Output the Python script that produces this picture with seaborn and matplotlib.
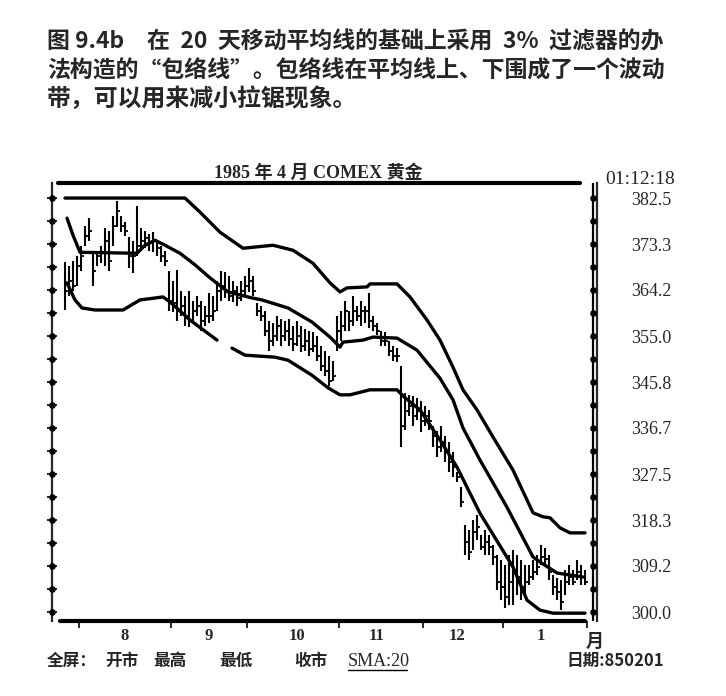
import numpy as np
import matplotlib
matplotlib.use('Agg')
import matplotlib.pyplot as plt
from matplotlib.lines import Line2D
import seaborn as sns

# daily bars, April 1985 COMEX gold (late Jul 1984 .. Jan 1985)
highs = [369.7, 369.0, 370.0, 371.0, 373.0, 377.0, 378.5, 372.0, 372.0, 373.0,
         376.5, 376.0, 379.0, 382.0, 379.0, 377.7, 374.7, 374.0, 381.0, 376.5,
         376.0, 375.3, 375.7, 374.0, 373.0, 372.0, 368.0, 366.0, 368.2, 364.0,
         363.0, 364.0, 362.0, 363.0, 362.0, 361.0, 363.5, 363.0, 366.0, 368.0,
         367.7, 367.0, 366.0, 365.0, 366.0, 367.0, 368.5, 367.0, 361.6, 361.0,
         360.0, 358.0, 357.7, 359.0, 358.5, 358.0, 358.5, 357.0, 358.0, 357.0,
         356.5, 356.0, 355.8, 355.0, 353.0, 352.0, 351.0, 350.0, 359.0, 360.0,
         362.0, 360.0, 363.0, 361.0, 362.0, 361.0, 363.5, 359.0, 357.6, 356.0,
         355.8, 354.0, 353.0, 352.6, 349.0, 343.6, 343.2, 343.0, 342.6, 342.0,
         341.0, 340.3, 337.0, 336.0, 337.0, 335.0, 334.0, 332.0, 328.0, 325.0,
         317.4, 316.4, 318.4, 319.4, 315.4, 316.4, 315.4, 313.4, 311.4, 310.4,
         309.4, 311.4, 312.4, 311.4, 310.4, 309.4, 309.4, 310.4, 311.4, 313.4,
         312.7, 311.4, 307.4, 306.8, 306.4, 308.4, 309.4, 308.4, 310.4, 309.4,
         308.4]
lows = [360.2, 363.0, 364.0, 365.0, 368.0, 373.0, 374.0, 365.0, 369.0, 369.5,
        369.0, 368.0, 373.0, 376.7, 375.7, 375.0, 368.5, 367.5, 371.0, 372.0,
        372.5, 372.0, 371.7, 371.0, 369.7, 369.0, 360.0, 359.8, 358.0, 359.0,
        357.0, 356.8, 358.0, 359.0, 356.0, 357.0, 357.6, 358.0, 360.0, 362.0,
        362.6, 362.0, 361.8, 361.0, 362.0, 363.0, 363.8, 363.0, 359.0, 358.0,
        355.0, 352.0, 353.0, 354.0, 353.0, 354.0, 353.0, 352.0, 353.0, 351.8,
        352.0, 351.0, 351.8, 350.0, 348.0, 347.0, 345.0, 346.0, 352.0, 354.0,
        356.0, 356.0, 357.0, 358.0, 357.0, 357.7, 356.6, 356.0, 355.2, 353.0,
        353.0, 351.0, 350.0, 349.8, 333.0, 336.3, 339.0, 337.0, 338.3, 335.9,
        337.0, 336.3, 333.0, 331.0, 332.0, 330.0, 328.0, 327.0, 326.0, 321.0,
        311.4, 310.4, 312.4, 314.4, 312.4, 311.4, 311.4, 309.4, 304.4, 302.4,
        300.8, 301.4, 301.4, 303.4, 302.4, 303.4, 305.4, 306.4, 307.4, 309.4,
        309.4, 306.4, 303.4, 302.4, 300.4, 303.4, 305.4, 305.4, 306.4, 305.4,
        305.4]
closes = [364.0, 366.0, 365.0, 369.0, 371.0, 375.0, 376.0, 368.0, 371.0, 371.5,
          374.0, 370.0, 377.0, 380.0, 377.0, 376.0, 371.0, 371.0, 373.0, 374.0,
          374.5, 373.5, 374.0, 372.5, 371.0, 370.0, 362.0, 361.5, 360.0, 361.0,
          359.0, 358.0, 360.0, 361.0, 358.0, 359.0, 359.0, 360.0, 364.0, 365.0,
          364.0, 363.0, 364.0, 362.5, 364.0, 365.0, 366.0, 364.0, 360.0, 359.0,
          356.0, 354.0, 355.0, 357.0, 355.0, 356.0, 354.5, 353.5, 355.0, 353.0,
          354.0, 352.5, 353.0, 351.0, 349.0, 348.0, 346.0, 347.0, 356.0, 357.0,
          360.0, 358.0, 360.0, 359.0, 360.0, 360.0, 358.0, 357.0, 356.0, 354.0,
          354.0, 352.0, 351.0, 351.0, 337.0, 340.0, 341.0, 339.0, 340.0, 338.0,
          339.0, 338.0, 335.0, 333.0, 334.0, 332.0, 330.0, 329.0, 327.0, 322.0,
          314.0, 312.0, 316.0, 317.0, 313.0, 314.0, 313.0, 311.0, 306.0, 305.0,
          303.0, 306.0, 308.0, 307.0, 305.0, 306.0, 307.0, 308.0, 309.0, 311.0,
          310.5, 308.0, 305.0, 304.0, 302.0, 306.0, 307.0, 306.0, 308.0, 307.0,
          306.0]

# 20-day SMA and 3% filter envelope (vertices: day, price)
sma_day = [0.5, 2, 3.75, 18, 20, 22.5, 25, 28.75, 32.5, 36.25, 40.75, 46.75, 49.25,
           55.75, 61.75, 66.25, 68.75, 69.5, 74.5, 77, 83, 88, 93.75, 97, 99.5,
           103.75, 110.5, 117, 118.75, 123, 129.5]
sma_price = [378.5, 375.1, 371.7, 371.5, 373.1, 374.1, 373.1, 371.5, 369.2, 366.6,
             363.8, 362.6, 362.2, 360.6, 357.8, 354.8, 352.8, 353.8, 354.2, 354.8,
             354.6, 352.2, 346.6, 342.3, 336.7, 330.3, 320.9, 311.0, 310.0, 307.8,
             307.0]
upper_day = [0, 30, 33.75, 38.75, 44.5, 52, 57, 62, 66.25, 68.75, 70.5, 75.5, 76.25,
             83, 86.25, 90.5, 93.75, 97, 99.5, 103, 107, 112, 117, 119.5, 121.25,
             123.75, 126.25, 130]
upper_price = [382.5, 382.5, 379.7, 375.7, 372.5, 373.1, 372.1, 369.5, 365.6, 363.8,
               364.6, 364.8, 365.4, 365.4, 362.8, 358.2, 354.2, 348.8, 344.3, 340.3,
               334.9, 328.3, 319.8, 319.0, 318.8, 316.8, 315.8, 315.8]
lower_day_a = [0.5, 2.5, 4.25, 7.5, 14.5, 18.75, 24.5, 26.25, 31.25, 38]
lower_price_a = [365.6, 362.2, 360.6, 360.2, 360.2, 362.2, 362.8, 361.8, 358.2, 354.2]
lower_day_b = [41.75, 45, 52.5, 55.75, 61.75, 65.75, 68.75, 71.25, 76.25, 83, 85,
               88.75, 93.75, 98, 103.75, 112, 115.5, 118.75, 122, 130]
lower_price_b = [352.6, 351.2, 350.8, 350.2, 347.2, 344.7, 343.3, 343.3, 344.3, 344.3,
                 342.7, 340.3, 334.3, 328.9, 319.7, 309.0, 302.4, 300.4, 299.8, 299.8]

price_ticks = [300.0, 309.2, 318.3, 327.5, 336.7, 345.8, 355.0, 364.2, 373.3, 382.5]
month_starts = [3.5, 26.5, 45.5, 68.5, 89.5, 109.5, 130.5]
month_label_pos = [15, 36, 58, 78, 98, 119]
month_labels = ['8', '9', '10', '11', '12', '1']

sns.set_style('white')
plt.rcParams['font.family'] = ['Noto Sans CJK SC', 'DejaVu Sans']
serif = ['Liberation Serif', 'Noto Sans CJK SC']

W, H = 726, 696
fig = plt.figure(figsize=(W / 100, H / 100), dpi=100)
ax = fig.add_axes([52 / W, 1 - 621 / H, (597 - 52) / W, (621 - 183) / H])
ax.set_xlim(-3.25, 133)
ax.set_ylim(298.24, 385.5)

days = np.arange(len(highs))
ax.vlines(days, lows, highs, color='black', lw=1.5)
ax.hlines(closes, days, days + 0.75, color='black', lw=1.3)

for xs, ys in [(sma_day, sma_price), (upper_day, upper_price),
               (lower_day_a, lower_price_a), (lower_day_b, lower_price_b)]:
    sns.lineplot(x=xs, y=ys, ax=ax, color='black', lw=2.4, estimator=None)

# frame
for s in ['top', 'bottom']:
    ax.spines[s].set_visible(False)
ax.spines['left'].set_linewidth(1.6)
ax.spines['right'].set_linewidth(1.6)
ax.axvline(132, color='black', lw=1.6)
xt = ax.get_xaxis_transform()
ax.plot([-1.75, 128.75], [1, 1], transform=xt, color='black', lw=3, clip_on=False)
ax.plot([-1.25, 130], [0, 0], transform=xt, color='black', lw=3, clip_on=False)

dots = np.linspace(300, 382.5, 19)
ax.scatter(np.full(len(dots), -3.25), dots, s=14, color='black', clip_on=False, zorder=5)
ax.scatter(np.full(len(dots), 132), dots, s=14, color='black', clip_on=False, zorder=5)

ax.set_yticks(dots, minor=True)
ax.set_yticks(price_ticks)
ax.set_yticklabels([f'{v:.1f}' for v in price_ticks], family=serif, fontsize=13)
ax.tick_params(axis='y', which='both', left=True, right=False, labelleft=False,
               labelright=True, direction='inout', length=7, width=1.4, pad=21)

ax.set_xticks(month_starts)
ax.set_xticklabels([])
ax.set_xticks(month_label_pos, minor=True)
ax.set_xticklabels(month_labels, minor=True, family=serif, fontsize=12,
                   fontweight='bold')
ax.tick_params(axis='x', which='major', bottom=True, direction='out',
               length=5, width=1.4)
ax.tick_params(axis='x', which='minor', bottom=True, length=0, pad=5)
ax.text(132.5, -0.025, '月', transform=xt, ha='center', va='top',
        fontsize=13, fontweight='bold')

# titles and captions
fig.text(318 / W, 1 - 173 / H, '1985 年 4 月 COMEX 黄金', ha='center', va='center',
         fontsize=13, fontweight='bold', family=serif)
fig.text(640 / W, 1 - 179 / H, '01:12:18', ha='center', va='center',
         fontsize=14, family=serif)

fig.text(47 / W, 1 - 42 / H, '图 9.4b', ha='left', va='center', fontsize=16.5,
         fontweight='bold')
fig.text(147 / W, 1 - 42 / H, '在  20  天移动平均线的基础上采用  3%  过滤器的办',
         ha='left', va='center', fontsize=16.5, fontweight='bold')
fig.text(47 / W, 1 - 71 / H, '法构造的“包络线”。包络线在平均线上、下围成了一个波动',
         ha='left', va='center', fontsize=16.5, fontweight='bold')
fig.text(47 / W, 1 - 99 / H, '带，可以用来减小拉锯现象。', ha='left', va='center',
         fontsize=17.2, fontweight='bold')

footer = [('全屏：', 47), ('开市', 105), ('最高', 153), ('最低', 219), ('收市', 294),
          ('日期:850201', 566)]
for label, x0 in footer:
    fig.text(x0 / W, 1 - 661 / H, label, ha='left', va='center', fontsize=12,
             fontweight='bold')
fig.text(348 / W, 1 - 661 / H, 'SMA:20', ha='left', va='center', fontsize=13,
         family=serif)
fig.add_artist(Line2D([348 / W, 407 / W], [1 - 670 / H, 1 - 670 / H],
                      color='black', lw=1))

fig.savefig('out.png', dpi=100, facecolor='white')
